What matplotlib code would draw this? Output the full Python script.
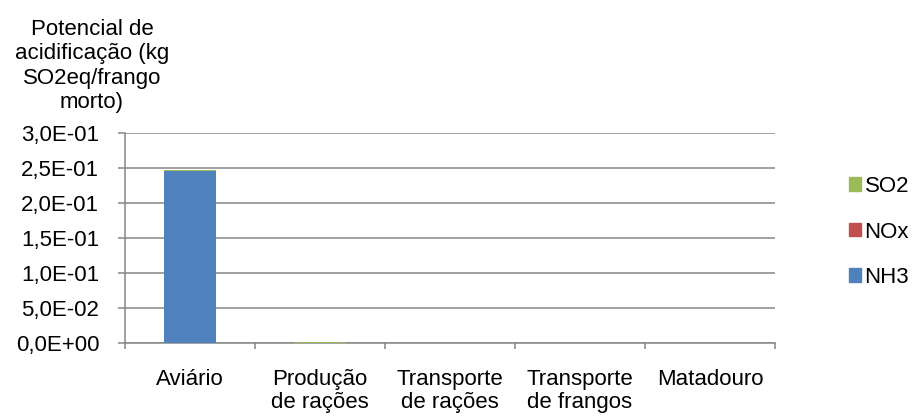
import numpy as np
import matplotlib
matplotlib.use("Agg")
import matplotlib.pyplot as plt
from matplotlib.patches import Patch

plt.rcParams['font.family'] = ['Liberation Sans', 'DejaVu Sans']

# stages of the chain
categories = ['Aviário', 'Produção\nde rações', 'Transporte\nde rações', 'Transporte\nde frangos', 'Matadouro']
# kg SO2eq per slaughtered chicken, per gas
nh3 = [0.2455, 0.0, 0.0, 0.0, 0.0]
nox = [0.0002, 0.0, 0.0, 0.0, 0.0]
so2 = [0.0013, 0.0004, 0.0, 0.0, 0.0]
yticks = [0.0, 0.05, 0.10, 0.15, 0.20, 0.25, 0.30]
ytick_labels = ['0,0E+00', '5,0E-02', '1,0E-01', '1,5E-01', '2,0E-01', '2,5E-01', '3,0E-01']

c_nh3 = '#4F81BD'
c_nox = '#C0504D'
c_so2 = '#9BBB59'
gray = '#868686'
fs = 16

fig = plt.figure(figsize=(9.15, 4.19), dpi=100)
ax = fig.add_axes([125/915, 1-342.7/419, 650/915, (342.7-133.3)/419])

x = np.arange(len(categories))
w = 0.4
ax.bar(x, nh3, w, color=c_nh3, zorder=3)
ax.bar(x, nox, w, bottom=nh3, color=c_nox, zorder=3)
bot2 = [a + b for a, b in zip(nh3, nox)]
ax.bar(x, so2, w, bottom=bot2, color=c_so2, zorder=3)

ax.set_xlim(-0.5, len(categories) - 0.5)
ax.set_ylim(0, 0.30)
ax.set_yticks(yticks)
ax.set_yticklabels(ytick_labels, fontsize=fs)
ax.yaxis.grid(True, color=gray, linewidth=1.1, zorder=0)
ax.set_axisbelow(True)

# ticks on the x axis sit between the categories
ax.set_xticks(np.arange(len(categories) + 1) - 0.5)
ax.set_xticklabels([])
ax.set_xticks(x, minor=True)
ax.set_xticklabels(categories, minor=True, fontsize=fs, linespacing=1.1)
ax.tick_params(axis='x', which='minor', length=0, pad=19)
ax.tick_params(axis='x', which='major', length=4.3, width=1.1, color=gray)
ax.tick_params(axis='y', length=5, width=1.1, color=gray, pad=13.5)

for s in ['top', 'right']:
    ax.spines[s].set_visible(False)
for s in ['left', 'bottom']:
    ax.spines[s].set_color(gray)
    ax.spines[s].set_linewidth(1.1)

fig.text(92/915, 1-66/419, 'Potencial de\nacidificação (kg\nSO2eq/frango\nmorto)',
         ha='center', va='center', fontsize=fs, linespacing=1.2)

handles = [Patch(color=c_so2), Patch(color=c_nox), Patch(color=c_nh3)]
fig.legend(handles, ['SO2', 'NOx', 'NH3'], loc='center left',
           bbox_to_anchor=(849/915, 1-232/419), frameon=False, fontsize=fs,
           handlelength=0.55, handleheight=0.55, handletextpad=0.15, labelspacing=1.1,
           borderpad=0, borderaxespad=0)

fig.savefig('out.png', dpi=100)
